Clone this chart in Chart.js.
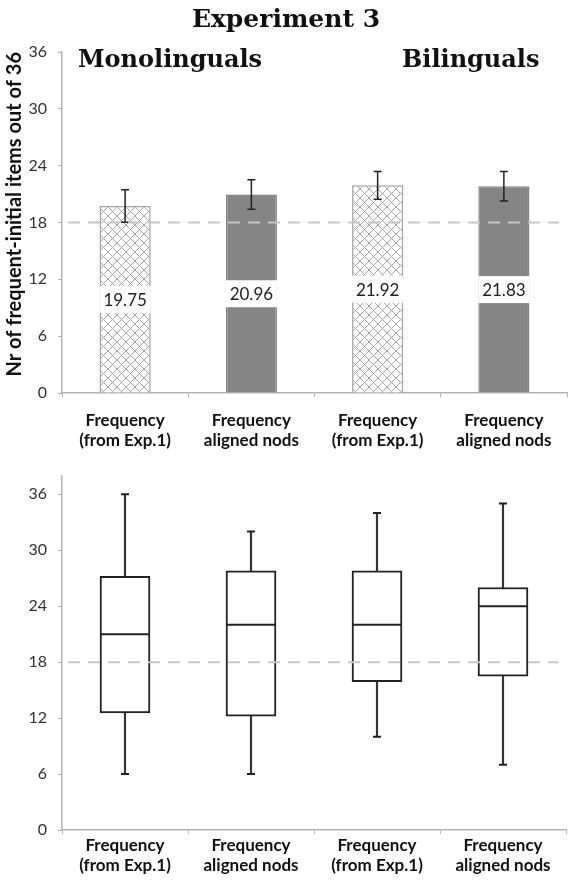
<!DOCTYPE html>
<html>
<head>
<meta charset="utf-8">
<script src="https://cdn.jsdelivr.net/npm/chart.js@4.4.1/dist/chart.umd.min.js"></script>
<style>
  body { margin: 0; background: #fff; width: 572px; height: 880px; position: relative; overflow: hidden; }
  .wrap { position: absolute; left: 0; width: 572px; }
  .head { position: absolute; font-family: "DejaVu Serif", serif; font-weight: bold; line-height: 1; color: #111; white-space: nowrap; z-index: 2; }
</style>
</head>
<body>
<div class="wrap" style="top:0;height:455px"><canvas id="meansChart"></canvas></div>
<div class="wrap" style="top:455px;height:425px"><canvas id="boxChart"></canvas></div>
<div class="head" style="left:0;width:572px;text-align:center;top:6px;font-size:25px">Experiment 3</div>
<div class="head" style="left:78px;top:47px;font-size:24px">Monolinguals</div>
<div class="head" style="left:402px;top:47px;font-size:24px">Bilinguals</div>
<script>
// categories (two lines each)
const categories = [
  ['Frequency', '(from Exp.1)'],
  ['Frequency', 'aligned nods'],
  ['Frequency', '(from Exp.1)'],
  ['Frequency', 'aligned nods']
];
const yTicks = [0, 6, 12, 18, 24, 30, 36];
const chanceLevel = 18;

// top panel: means with error bars
const means = [19.75, 20.96, 21.92, 21.83];
const errors = [1.72, 1.55, 1.46, 1.55];

// bottom panel: box plots
const mins = [6, 6, 10, 7];
const q1s = [12.55, 12.2, 15.9, 16.5];
const medians = [21, 22, 22, 24];
const q3s = [27.2, 27.8, 27.8, 26];
const maxs = [36, 32, 34, 35];

const axisGrey = '#b3b3b3';

function hatchPattern(ctx) {
  const c = document.createElement('canvas');
  c.width = 9; c.height = 9;
  const x = c.getContext('2d');
  x.fillStyle = '#fff';
  x.fillRect(0, 0, 9, 9);
  x.strokeStyle = '#a6a6a6';
  x.lineWidth = 1;
  x.beginPath();
  x.moveTo(-1, -1); x.lineTo(10, 10);
  x.moveTo(10, -1); x.lineTo(-1, 10);
  x.stroke();
  return ctx.createPattern(c, 'repeat');
}

function xAxis(height, pad) {
  return {
    grid: { display: true, drawOnChartArea: false, drawTicks: true, tickLength: 4, color: axisGrey, offset: true },
    border: { color: axisGrey, width: 1.5 },
    ticks: { color: '#111', font: { family: 'Lato', size: 17, weight: 'bold', lineHeight: 1.18 }, padding: pad, maxRotation: 0, autoSkip: false },
    afterFit: s => { s.height = height; }
  };
}

function yAxis(max) {
  return {
    min: 0,
    max: max,
    grid: { display: true, drawOnChartArea: false, drawTicks: true, tickLength: 4, color: axisGrey },
    border: { color: axisGrey, width: 1.5 },
    ticks: { color: '#333', font: { family: 'Lato', size: 16 }, padding: 11, includeBounds: false },
    afterBuildTicks: s => { s.ticks = yTicks.map(v => ({ value: v })); },
    afterFit: s => { s.width = 62; }
  };
}

function dashedChance(chart) {
  const { ctx, chartArea, scales: { y } } = chart;
  const py = y.getPixelForValue(chanceLevel);
  ctx.save();
  ctx.strokeStyle = '#c6c6c6';
  ctx.lineWidth = 2;
  ctx.setLineDash([12, 8]);
  ctx.beginPath();
  ctx.moveTo(chartArea.left + 6, py);
  ctx.lineTo(chartArea.right - 8, py);
  ctx.stroke();
  ctx.restore();
}

// error bars, value labels, chance line
const meanExtras = {
  id: 'meanExtras',
  afterDatasetsDraw(chart) {
    const { ctx, scales: { y } } = chart;
    const meta = chart.getDatasetMeta(0);
    ctx.save();
    meta.data.forEach((bar, i) => {
      const yc = y.getPixelForValue(means[i] / 2);
      ctx.fillStyle = '#fff';
      ctx.fillRect(bar.x - bar.width / 2, yc - 13.5, bar.width, 27);
      ctx.fillStyle = '#222';
      ctx.font = '17px Lato';
      ctx.textAlign = 'center';
      ctx.textBaseline = 'middle';
      ctx.fillText(means[i].toFixed(2), bar.x, yc + 1);

      const top = y.getPixelForValue(means[i] + errors[i]);
      const bot = y.getPixelForValue(means[i] - errors[i]);
      ctx.strokeStyle = '#222';
      ctx.lineWidth = 1.5;
      ctx.beginPath();
      ctx.moveTo(bar.x, top); ctx.lineTo(bar.x, bot);
      ctx.moveTo(bar.x - 4, top); ctx.lineTo(bar.x + 4, top);
      ctx.moveTo(bar.x - 4, bot); ctx.lineTo(bar.x + 4, bot);
      ctx.stroke();
    });
    ctx.restore();
    dashedChance(chart);
  }
};

// medians, whisker caps, chance line
const boxExtras = {
  id: 'boxExtras',
  afterDatasetsDraw(chart) {
    const { ctx, scales: { y } } = chart;
    const meta = chart.getDatasetMeta(0);
    ctx.save();
    ctx.strokeStyle = '#222';
    meta.data.forEach((box, i) => {
      const half = box.width / 2;
      ctx.lineWidth = 2;
      ctx.beginPath();
      ctx.moveTo(box.x - half, y.getPixelForValue(medians[i]));
      ctx.lineTo(box.x + half, y.getPixelForValue(medians[i]));
      ctx.stroke();
      ctx.beginPath();
      ctx.moveTo(box.x - 4, y.getPixelForValue(maxs[i]));
      ctx.lineTo(box.x + 4, y.getPixelForValue(maxs[i]));
      ctx.moveTo(box.x - 4, y.getPixelForValue(mins[i]));
      ctx.lineTo(box.x + 4, y.getPixelForValue(mins[i]));
      ctx.stroke();
    });
    ctx.restore();
    dashedChance(chart);
  }
};

const ctx1 = document.getElementById('meansChart').getContext('2d');
const hatch = hatchPattern(ctx1);
new Chart(ctx1, {
  type: 'bar',
  data: {
    labels: categories,
    datasets: [{
      data: means,
      backgroundColor: [hatch, '#858585', hatch, '#858585'],
      borderColor: ['#a3a3a3', '#858585', '#a3a3a3', '#858585'],
      borderWidth: 1.5,
      barPercentage: 0.405,
      categoryPercentage: 1
    }]
  },
  options: {
    responsive: true,
    maintainAspectRatio: false,
    animation: false,
    layout: { padding: { top: 52, right: 5, left: 0, bottom: 0 } },
    plugins: { legend: { display: false }, tooltip: { enabled: false } },
    scales: {
      x: xAxis(62, 13),
      y: Object.assign(yAxis(36), {
        title: {
          display: true,
          text: 'Nr of frequent-initial items out of 36',
          align: 'end',
          color: '#111',
          font: { family: 'Lato', size: 20, weight: 'bold', lineHeight: 1.2 },
          padding: { top: 3, bottom: 0 }
        }
      })
    }
  },
  plugins: [meanExtras]
});

const ctx2 = document.getElementById('boxChart').getContext('2d');
new Chart(ctx2, {
  type: 'bar',
  data: {
    labels: categories,
    datasets: [
      {
        // boxes (Q1..Q3)
        data: q1s.map((q, i) => [q, q3s[i]]),
        backgroundColor: '#fff',
        borderColor: '#222',
        borderWidth: 2,
        borderSkipped: false,
        barThickness: 50,
        grouped: false,
        order: 0
      },
      {
        // whiskers (min..max)
        data: mins.map((m, i) => [m, maxs[i]]),
        backgroundColor: '#333',
        borderWidth: 0,
        barThickness: 1.5,
        grouped: false,
        order: 1
      }
    ]
  },
  options: {
    responsive: true,
    maintainAspectRatio: false,
    animation: false,
    layout: { padding: { top: 12, right: 6, left: 0, bottom: 0 } },
    plugins: { legend: { display: false }, tooltip: { enabled: false } },
    scales: {
      x: xAxis(50, 1),
      y: yAxis(38)
    }
  },
  plugins: [boxExtras]
});
</script>
</body>
</html>
